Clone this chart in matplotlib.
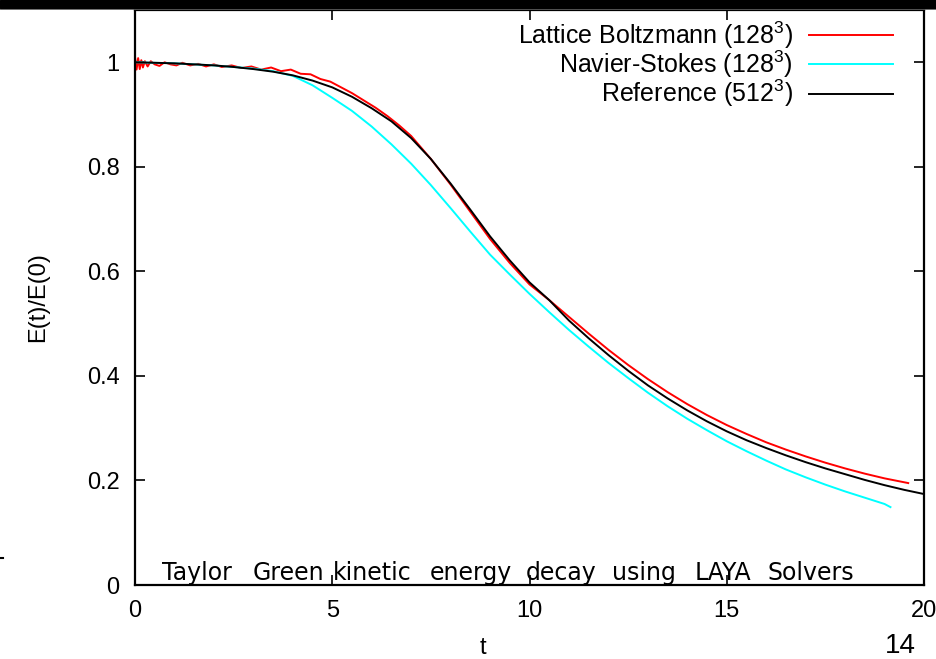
import matplotlib
matplotlib.use('Agg')
import matplotlib.pyplot as plt
from matplotlib.lines import Line2D
from matplotlib.patches import Rectangle

plt.rcParams['font.family'] = ['Liberation Sans', 'DejaVu Sans']
plt.rcParams['mathtext.fontset'] = 'custom'
plt.rcParams['mathtext.rm'] = 'Liberation Sans'
plt.rcParams['mathtext.default'] = 'regular'

# Lattice Boltzmann (128^3)
t_lb = [0.00, 0.04, 0.08, 0.12, 0.16, 0.20, 0.25, 0.32, 0.40, 0.50, 0.62, 0.75,
        0.90, 1.05, 1.20, 1.40, 1.60, 1.80, 2.00, 2.20, 2.45, 2.70, 2.95, 3.20,
        3.45, 3.70, 3.95, 4.20, 4.45, 4.70, 4.95, 5.20, 5.50, 5.80, 6.10, 6.40,
        6.70, 7.00, 7.5, 8.0, 8.5, 9.0, 9.5, 10.0, 10.5, 11.0, 11.5, 12.0, 12.5,
        13.0, 13.5, 14.0, 14.5, 15.0, 15.5, 16.0, 16.5, 17.0, 17.5, 18.0, 18.5,
        19.0, 19.6]
e_lb = [1.010, 0.986, 1.008, 0.987, 1.004, 0.990, 1.002, 0.992, 1.002, 0.996,
        0.993, 1.000, 0.996, 0.994, 0.999, 0.994, 0.997, 0.992, 0.996, 0.991,
        0.994, 0.989, 0.992, 0.986, 0.990, 0.983, 0.986, 0.978, 0.977, 0.968,
        0.963, 0.953, 0.941, 0.927, 0.913, 0.897, 0.879, 0.859, 0.815, 0.766,
        0.714, 0.662, 0.616, 0.575, 0.545, 0.513, 0.481, 0.450, 0.421, 0.394,
        0.369, 0.346, 0.325, 0.306, 0.289, 0.273, 0.259, 0.246, 0.234, 0.223,
        0.213, 0.204, 0.195]

# Navier-Stokes (128^3)
t_ns = [0, 1, 2, 3, 3.5, 4, 4.5, 5, 5.5, 6, 6.5, 7, 7.5, 8, 8.5, 9, 9.5, 10,
        10.5, 11, 11.5, 12, 12.5, 13, 13.5, 14, 14.5, 15, 15.5, 16, 16.5, 17,
        17.5, 18, 18.5, 19, 19.15]
e_ns = [1.0, 0.998, 0.994, 0.988, 0.983, 0.974, 0.956, 0.932, 0.907, 0.877,
        0.843, 0.806, 0.765, 0.721, 0.676, 0.632, 0.594, 0.557, 0.522, 0.488,
        0.456, 0.425, 0.396, 0.368, 0.342, 0.318, 0.296, 0.275, 0.256, 0.238,
        0.221, 0.206, 0.192, 0.179, 0.167, 0.155, 0.149]

# Reference (512^3)
t_ref = [0, 0.5, 1, 1.5, 2, 2.5, 3, 3.5, 4, 4.5, 5, 5.5, 6, 6.5, 7, 7.5, 8,
         8.5, 9, 9.5, 10, 10.5, 11, 11.5, 12, 12.5, 13, 13.5, 14, 14.5, 15,
         15.5, 16, 16.5, 17, 17.5, 18, 18.5, 19, 19.5, 20]
e_ref = [1.0, 0.999, 0.998, 0.996, 0.994, 0.991, 0.987, 0.982, 0.975, 0.965,
         0.952, 0.934, 0.912, 0.887, 0.855, 0.815, 0.768, 0.718, 0.667, 0.621,
         0.579, 0.545, 0.506, 0.472, 0.440, 0.410, 0.382, 0.357, 0.334, 0.313,
         0.294, 0.277, 0.262, 0.248, 0.235, 0.223, 0.212, 0.201, 0.191, 0.182,
         0.174]

x_ticks = [0, 5, 10, 15, 20]
y_ticks = [0, 0.2, 0.4, 0.6, 0.8, 1]
y_labels = ['0', '0.2', '0.4', '0.6', '0.8', '1']

title_words = ['Taylor', 'Green', 'kinetic', 'energy', 'decay', 'using', 'LAYA', 'Solvers']

W, H = 937, 659
fig = plt.figure(figsize=(W / 100, H / 100), dpi=100)
ax = fig.add_axes([135 / W, 74 / H, 789 / W, 575 / H])

ax.plot(t_lb, e_lb, color='#ff0000', lw=1.4, label='Lattice Boltzmann (128$^3$)')
ax.plot(t_ns, e_ns, color='#00ffff', lw=1.4, label='Navier-Stokes (128$^3$)')
ax.plot(t_ref, e_ref, color='black', lw=1.4, label='Reference (512$^3$)')

ax.set_xlim(0, 20)
ax.set_ylim(0, 1.1)
ax.set_xticks(x_ticks)
ax.set_yticks(y_ticks)
ax.set_yticklabels(y_labels)
ax.tick_params(direction='in', length=7, width=1.2, top=True, right=True,
               labelsize=17, pad=11)
for s in ax.spines.values():
    s.set_linewidth(1.6)

ax.set_ylabel('E(t)/E(0)', fontsize=17, labelpad=27)
fig.text(483 / W, 1 - 648 / H, 't', fontsize=17, ha='center', va='center')

ax.legend(loc='upper right', bbox_to_anchor=(0.9607, 0.984),
          frameon=False, markerfirst=False, fontsize=18,
          borderpad=0, borderaxespad=0,
          handlelength=3.35, handletextpad=0.65, labelspacing=-0.08)

# caption overlaid at the bottom of the plot, one word at a time
word_x = [162, 253, 333, 430, 526, 612, 695, 768]
for word, xp in zip(title_words, word_x):
    fig.text(xp / W, 1 - 580 / H, word, fontsize=17, family='DejaVu Sans',
             ha='left', va='baseline')

# slide decorations
fig.patches.append(Rectangle((0, 1 - 8 / H), 1, 8 / H, transform=fig.transFigure,
                             color='black', zorder=10))
fig.add_artist(Line2D([0, 1], [1 - 8.5 / H, 1 - 8.5 / H], color='#777777', lw=1.2))
fig.text(900 / W, 1 - 646 / H, '14', fontsize=20, ha='center', va='center')
fig.add_artist(Line2D([0, 3 / W], [1 - 558 / H, 1 - 558 / H], color='black', lw=1.5))

fig.savefig('out.png', dpi=100)
